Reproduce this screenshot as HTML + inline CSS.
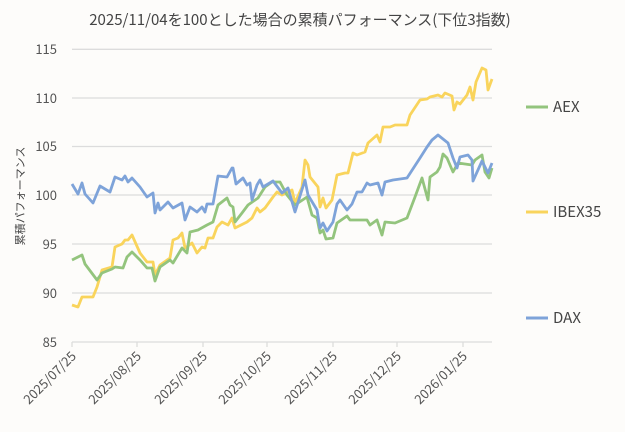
<!DOCTYPE html>
<html><head><meta charset="utf-8"><style>
html,body{margin:0;padding:0;background:#fdfcfa;}
svg{display:block;font-family:"Noto Sans CJK JP","Liberation Sans",sans-serif;}
</style></head><body>
<svg width="625" height="432" viewBox="0 0 625 432">
<rect width="625" height="432" fill="#fdfcfa"/>
<text x="300" y="25" font-size="15" fill="#444" text-anchor="middle">2025/11/04を100とした場合の累積パフォーマンス(下位3指数)</text>
<g stroke="#dcdcdc" stroke-width="1.3">
<line x1="72" x2="492" y1="49.3" y2="49.3"/><line x1="72" x2="492" y1="98" y2="98"/><line x1="72" x2="492" y1="146.5" y2="146.5"/><line x1="72" x2="492" y1="195" y2="195"/><line x1="72" x2="492" y1="244" y2="244"/><line x1="72" x2="492" y1="293" y2="293"/><line x1="72" x2="492" y1="342" y2="342"/>
<line x1="72" x2="72" y1="342" y2="347"/><line x1="137" x2="137" y1="342" y2="347"/><line x1="203" x2="203" y1="342" y2="347"/><line x1="267" x2="267" y1="342" y2="347"/><line x1="333" x2="333" y1="342" y2="347"/><line x1="397" x2="397" y1="342" y2="347"/><line x1="463" x2="463" y1="342" y2="347"/>
</g>
<g font-size="13" fill="#555" text-anchor="end">
<text x="57" y="54">115</text><text x="57" y="103">110</text><text x="57" y="151">105</text><text x="57" y="200">100</text><text x="57" y="249">95</text><text x="57" y="298">90</text><text x="57" y="347">85</text>
</g>
<g font-size="13" fill="#555" text-anchor="end">
<text transform="translate(77,357) rotate(-45)">2025/07/25</text>
<text transform="translate(142,357) rotate(-45)">2025/08/25</text>
<text transform="translate(208,357) rotate(-45)">2025/09/25</text>
<text transform="translate(272,357) rotate(-45)">2025/10/25</text>
<text transform="translate(338,357) rotate(-45)">2025/11/25</text>
<text transform="translate(402,357) rotate(-45)">2025/12/25</text>
<text transform="translate(468,357) rotate(-45)">2026/01/25</text>
</g>
<text transform="translate(24,196) rotate(-90)" font-size="11" fill="#444" text-anchor="middle">累積パフォーマンス</text>
<g fill="none" stroke-width="2.8" stroke-linejoin="round">
<polyline stroke="#f9d45c" points="72,305 78,307 82,297 93,297 97,287 102,270 112,267 115,247 122,244 125,240 128,240 132,235 140,253 147,262 153,262 155,275 160,265 170,258 173,240 178,238 182,233 185,248 192,243 197,253 202,247 205,248 208,238 213,238 217,227 222,222 228,225 232,218 235,228 247,222 252,218 257,208 260,212 265,208 273,197 277,192 282,195 292,190 295,203 302,187 305,160 308,165 310,177 318,187 320,207 323,198 326,208 332,200 337,175 345,173 348,173 353,153 357,155 365,152 368,143 377,135 380,142 383,127 390,127 395,125 407,125 410,115 420,100 427,99 430,97 438,95 442,97 445,93 452,96 454,110 457,102 460,104 467,95 470,87 473,100 476,82 482,68 486,70 488,90 492,79"/>
<polyline stroke="#93c47d" points="72,260 82,255 85,264 97,280 102,273 112,269 115,267 123,268 127,257 132,252 140,260 147,268 152,268 155,281 160,267 170,260 173,263 182,248 187,253 190,232 198,230 207,225 213,222 218,205 227,198 230,205 233,207 235,222 242,213 248,205 258,198 265,187 272,182 280,182 287,195 295,205 307,197 312,215 317,218 320,233 323,230 326,239 333,238 337,223 347,216 350,220 367,220 370,225 377,220 382,235 385,222 395,223 407,218 415,197 422,178 428,200 430,177 437,172 440,167 443,154 447,158 453,172 458,163 472,165 475,160 482,155 485,172 489,178 492,168"/>
<polyline stroke="#7ea3d9" points="72,184 78,194 82,183 85,194 93,203 100,186 110,192 115,177 122,180 125,176 128,182 132,178 140,187 147,197 153,193 155,213 158,203 160,210 168,202 173,208 182,203 185,220 190,207 197,212 202,207 205,212 207,204 213,204 218,176 227,177 232,168 233,168 236,184 243,178 247,185 250,183 252,200 257,185 260,180 263,187 273,181 282,193 288,188 295,212 305,180 308,195 317,210 320,228 323,223 327,231 333,222 337,204 340,200 347,210 352,204 357,192 362,192 367,183 370,185 378,183 382,195 385,182 393,180 407,178 420,158 427,147 432,140 438,135 443,139 448,143 453,158 457,168 460,157 468,155 472,160 473,181 482,161 488,173 492,163"/>
</g>
<g stroke-width="3">
<line x1="526" x2="548" y1="107" y2="107" stroke="#93c47d"/>
<line x1="526" x2="548" y1="212" y2="212" stroke="#f9d45c"/>
<line x1="526" x2="548" y1="318" y2="318" stroke="#7ea3d9"/>
</g>
<g font-size="15" fill="#444">
<text x="553" y="112">AEX</text><text x="553" y="217">IBEX35</text><text x="553" y="323">DAX</text>
</g>
</svg>
</body></html>
